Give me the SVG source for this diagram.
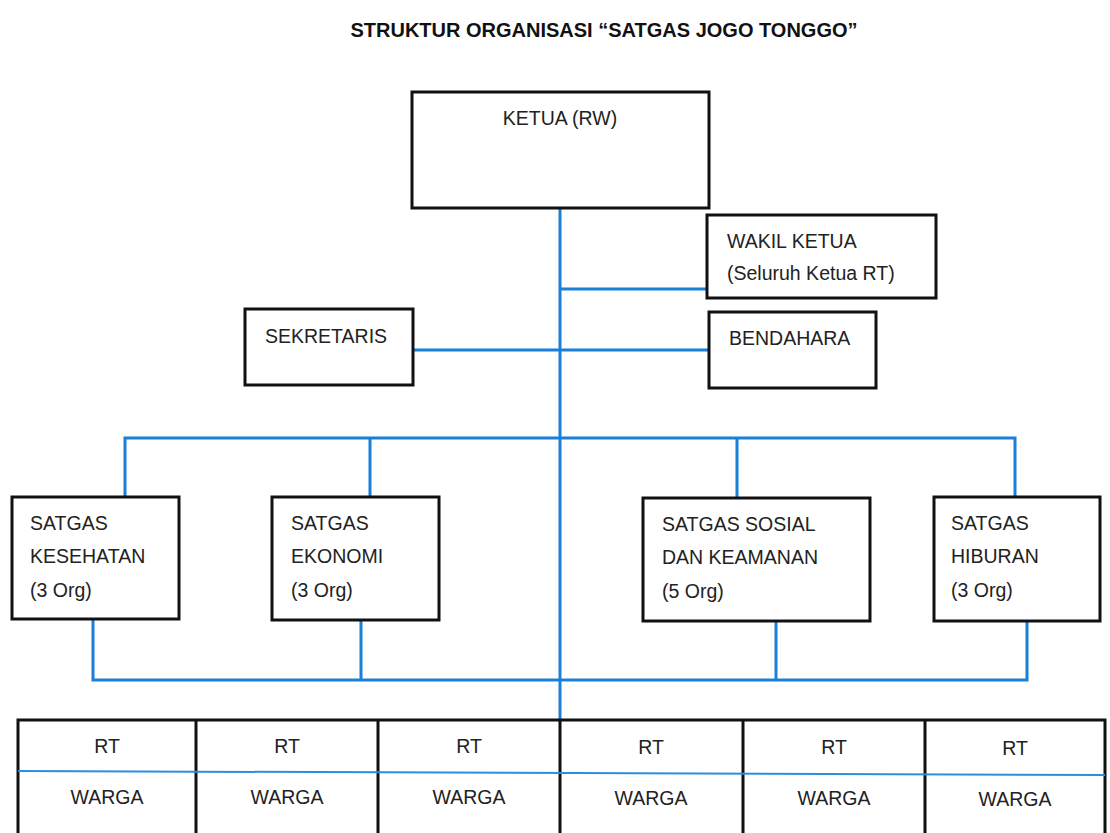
<svg xmlns="http://www.w3.org/2000/svg" width="1110" height="833" viewBox="0 0 1110 833">
<style>
.box{fill:#fff;stroke:#111;stroke-width:3}
.t{font-family:"Liberation Sans",Arial,sans-serif;font-size:19.5px;fill:#222}
.c{text-anchor:middle}
.ln{fill:none;stroke:#1a7fd8;stroke-width:3}
</style>
<rect width="1110" height="833" fill="#fff"/>
<text x="604" y="37" text-anchor="middle" font-family="Liberation Sans,Arial,sans-serif" font-size="20" font-weight="bold" fill="#111">STRUKTUR ORGANISASI “SATGAS JOGO TONGGO”</text>
<g id="connectors">
<path class="ln" d="M560 208 V720"/>
<path class="ln" d="M560 289 H707"/>
<path class="ln" d="M413 350 H709"/>
<path class="ln" d="M125 497 V438 H1015 V497 M370 438 V497 M737 438 V497"/>
<path class="ln" d="M93 619 V680 H1027 V621 M361 620 V680 M776 621 V680"/>
</g>
<g id="ketua"><rect class="box" x="412" y="92" width="297" height="116"/><text class="t c" x="560" y="125">KETUA (RW)</text></g>
<g id="wakil"><rect class="box" x="707" y="215" width="229" height="83"/><text class="t" x="727" y="248">WAKIL KETUA</text><text class="t" x="727" y="280">(Seluruh Ketua RT)</text></g>
<g id="sekretaris"><rect class="box" x="245" y="309" width="168" height="76"/><text class="t" x="265" y="343">SEKRETARIS</text></g>
<g id="bendahara"><rect class="box" x="709" y="312" width="167" height="76"/><text class="t" x="729" y="345">BENDAHARA</text></g>
<g id="kesehatan"><rect class="box" x="12" y="497" width="167" height="122"/><text class="t" x="30" y="530">SATGAS</text><text class="t" x="30" y="563">KESEHATAN</text><text class="t" x="30" y="597">(3 Org)</text></g>
<g id="ekonomi"><rect class="box" x="272" y="497" width="167" height="123"/><text class="t" x="291" y="530">SATGAS</text><text class="t" x="291" y="563">EKONOMI</text><text class="t" x="291" y="597">(3 Org)</text></g>
<g id="sosial"><rect class="box" x="643" y="498" width="227" height="123"/><text class="t" x="662" y="531">SATGAS SOSIAL</text><text class="t" x="662" y="564">DAN KEAMANAN</text><text class="t" x="662" y="598">(5 Org)</text></g>
<g id="hiburan"><rect class="box" x="934" y="497" width="166" height="124"/><text class="t" x="951" y="530">SATGAS</text><text class="t" x="951" y="563">HIBURAN</text><text class="t" x="951" y="597">(3 Org)</text></g>
<g id="rt-table">
<rect class="box" x="18" y="720" width="1087" height="120"/>
<path stroke="#111" stroke-width="3" d="M196 720 V833 M378 720 V833 M560 720 V833 M743 720 V833 M925 720 V833"/>
<path stroke="#2a8ee0" stroke-width="2" d="M18 771 L1105 775"/>
<g class="t c">
<text x="107" y="753">RT</text><text x="287" y="753">RT</text><text x="469" y="753">RT</text><text x="651" y="754">RT</text><text x="834" y="754">RT</text><text x="1015" y="755">RT</text>
<text x="107" y="804">WARGA</text><text x="287" y="804">WARGA</text><text x="469" y="804">WARGA</text><text x="651" y="805">WARGA</text><text x="834" y="805">WARGA</text><text x="1015" y="806">WARGA</text>
</g>
</g>
</svg>
